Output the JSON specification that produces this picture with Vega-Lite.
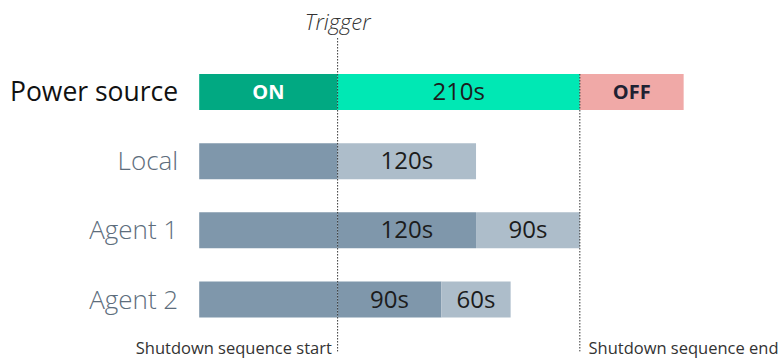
{
  "$schema": "https://vega.github.io/schema/vega-lite/v6.json",
  "width": 781,
  "height": 361,
  "padding": 0,
  "autosize": {"type": "none"},
  "config": {"view": {"stroke": null}, "font": "Open Sans"},
  "datasets": {
    "bars": [
      {"row": 0, "start": -120, "end": 0, "cat": "on", "label": "ON"},
      {"row": 0, "start": 0, "end": 210, "cat": "countdown", "label": "210s"},
      {"row": 0, "start": 210, "end": 300, "cat": "off", "label": "OFF"},
      {"row": 1, "start": -120, "end": 0, "cat": "pre", "label": ""},
      {"row": 1, "start": 0, "end": 120, "cat": "remaining", "label": "120s"},
      {"row": 2, "start": -120, "end": 0, "cat": "pre", "label": ""},
      {"row": 2, "start": 0, "end": 120, "cat": "active", "label": "120s"},
      {"row": 2, "start": 120, "end": 210, "cat": "remaining", "label": "90s"},
      {"row": 3, "start": -120, "end": 0, "cat": "pre", "label": ""},
      {"row": 3, "start": 0, "end": 90, "cat": "active", "label": "90s"},
      {"row": 3, "start": 90, "end": 150, "cat": "remaining", "label": "60s"}
    ],
    "rows": [
      {"row": 0, "name": "Power source", "main": true, "x": -138.2},
      {"row": 1, "name": "Local", "main": false, "x": -138.2},
      {"row": 2, "name": "Agent 1", "main": false, "x": -138.2},
      {"row": 3, "name": "Agent 2", "main": false, "x": -138.2}
    ],
    "rules": [
      {"x": 0, "y1": -0.78, "y2": 3.75},
      {"x": 210, "y1": -0.26, "y2": 3.75}
    ],
    "notes": [
      {"x": 0, "y": -1.0, "text": "Trigger", "kind": "trigger"},
      {"x": -5, "y": 3.72, "text": "Shutdown sequence start", "kind": "start"},
      {"x": 217.5, "y": 3.72, "text": "Shutdown sequence end", "kind": "end"}
    ]
  },
  "layer": [
    {
      "data": {"name": "bars"},
      "transform": [
        {"calculate": "datum.row - 0.26", "as": "y0"},
        {"calculate": "datum.row + 0.26", "as": "y1"}
      ],
      "mark": {"type": "bar"},
      "encoding": {
        "x": {"field": "start", "type": "quantitative", "scale": {"domain": [-292.7, 384.4], "range": [0, 781], "nice": false, "zero": false}, "axis": null},
        "x2": {"field": "end"},
        "y": {"field": "y0", "type": "quantitative", "scale": {"domain": [-1.33, 3.889], "range": [0, 361], "nice": false, "zero": false}, "axis": null},
        "y2": {"field": "y1"},
        "color": {
          "field": "cat", "type": "nominal", "legend": null,
          "scale": {
            "domain": ["on", "countdown", "off", "pre", "active", "remaining"],
            "range": ["#01A982", "#00E8B4", "#F0A9A7", "#7F97AB", "#7F97AB", "#ADBDCA"]
          }
        }
      }
    },
    {
      "data": {"name": "bars"},
      "transform": [
        {"filter": "datum.cat != 'on' && datum.cat != 'off'"},
        {"calculate": "(datum.start + datum.end) / 2", "as": "mid"}
      ],
      "mark": {"type": "text", "fontSize": 24, "font": "Open Sans", "color": "#1c1c1c", "baseline": "middle", "align": "center", "dy": 1},
      "encoding": {
        "x": {"field": "mid", "type": "quantitative"},
        "y": {"field": "row", "type": "quantitative"},
        "text": {"field": "label"}
      }
    },
    {
      "data": {"name": "bars"},
      "transform": [
        {"filter": "datum.cat == 'on'"},
        {"calculate": "(datum.start + datum.end) / 2", "as": "mid"}
      ],
      "mark": {"type": "text", "fontSize": 20, "font": "Open Sans", "fontWeight": "bold", "color": "#ffffff", "baseline": "middle", "align": "center", "dy": 1},
      "encoding": {
        "x": {"field": "mid", "type": "quantitative"},
        "y": {"field": "row", "type": "quantitative"},
        "text": {"field": "label"}
      }
    },
    {
      "data": {"name": "bars"},
      "transform": [
        {"filter": "datum.cat == 'off'"},
        {"calculate": "(datum.start + datum.end) / 2", "as": "mid"}
      ],
      "mark": {"type": "text", "fontSize": 20, "font": "Open Sans", "fontWeight": "bold", "color": "#1f2233", "baseline": "middle", "align": "center", "dy": 1},
      "encoding": {
        "x": {"field": "mid", "type": "quantitative"},
        "y": {"field": "row", "type": "quantitative"},
        "text": {"field": "label"}
      }
    },
    {
      "data": {"name": "rules"},
      "mark": {"type": "rule", "color": "#333333", "strokeDash": [1.5, 1.5], "strokeWidth": 1},
      "encoding": {
        "x": {"field": "x", "type": "quantitative"},
        "y": {"field": "y1", "type": "quantitative"},
        "y2": {"field": "y2"}
      }
    },
    {
      "data": {"name": "rows"},
      "transform": [{"filter": "datum.main"}],
      "mark": {"type": "text", "fontSize": 26.5, "font": "Open Sans", "fontWeight": 500, "color": "#111111", "align": "right", "baseline": "middle", "dy": 1},
      "encoding": {
        "x": {"field": "x", "type": "quantitative"},
        "y": {"field": "row", "type": "quantitative"},
        "text": {"field": "name"}
      }
    },
    {
      "data": {"name": "rows"},
      "transform": [{"filter": "!datum.main"}],
      "mark": {"type": "text", "fontSize": 26, "font": "Open Sans", "fontWeight": 300, "color": "#5d6d7c", "align": "right", "baseline": "middle", "dy": 1},
      "encoding": {
        "x": {"field": "x", "type": "quantitative"},
        "y": {"field": "row", "type": "quantitative"},
        "text": {"field": "name"}
      }
    },
    {
      "data": {"name": "notes"},
      "transform": [{"filter": "datum.kind == 'trigger'"}],
      "mark": {"type": "text", "fontSize": 22, "font": "Open Sans", "fontStyle": "italic", "fontWeight": 300, "color": "#333333", "align": "center", "baseline": "middle"},
      "encoding": {
        "x": {"field": "x", "type": "quantitative"},
        "y": {"field": "y", "type": "quantitative"},
        "text": {"field": "text"}
      }
    },
    {
      "data": {"name": "notes"},
      "transform": [{"filter": "datum.kind == 'start'"}],
      "mark": {"type": "text", "fontSize": 16.5, "font": "Open Sans", "color": "#333333", "baseline": "middle", "align": "right"},
      "encoding": {
        "x": {"field": "x", "type": "quantitative"},
        "y": {"field": "y", "type": "quantitative"},
        "text": {"field": "text"}
      }
    },
    {
      "data": {"name": "notes"},
      "transform": [{"filter": "datum.kind == 'end'"}],
      "mark": {"type": "text", "fontSize": 16.5, "font": "Open Sans", "color": "#333333", "baseline": "middle", "align": "left"},
      "encoding": {
        "x": {"field": "x", "type": "quantitative"},
        "y": {"field": "y", "type": "quantitative"},
        "text": {"field": "text"}
      }
    }
  ]
}
